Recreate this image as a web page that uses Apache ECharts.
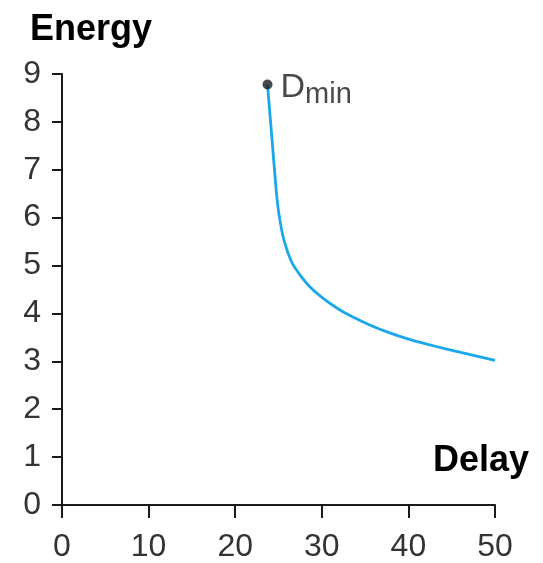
<!DOCTYPE html>
<html>
<head>
<meta charset="utf-8">
<script src="https://cdn.jsdelivr.net/npm/echarts@6/dist/echarts.min.js"></script>
<style>
html,body{margin:0;padding:0;background:#fff;}
#chart{width:543px;height:563px;}
</style>
</head>
<body>
<div id="chart"></div>
<script>
// Data
const xTicks = [0, 10, 20, 30, 40, 50];
const yTicks = [0, 1, 2, 3, 4, 5, 6, 7, 8, 9];
const curveDelay  = [23.73, 24.2, 24.73, 25.03, 25.6, 26.5, 27.5, 28.5, 29.9, 31.6, 33.3, 35.65, 38.0, 40.3, 43.0, 46.06, 50.0];
const curveEnergy = [8.78, 7.75, 6.58, 6.10, 5.55, 5.08, 4.80, 4.58, 4.35, 4.13, 3.95, 3.75, 3.585, 3.45, 3.32, 3.185, 3.02];
const dMinPoint = [23.73, 8.78];

const curve = curveDelay.map((d, i) => [d, curveEnergy[i]]);
const font = '"Liberation Sans", Arial, Helvetica, sans-serif';

const chart = echarts.init(document.getElementById('chart'));
chart.setOption({
  animation: false,
  backgroundColor: '#fff',
  title: [
    { text: 'Energy', left: 30, top: 12, padding: 0,
      textStyle: { fontFamily: font, fontSize: 36, fontWeight: 'bold', color: '#000' } },
    { text: 'Delay', left: 433, top: 443, padding: 0,
      textStyle: { fontFamily: font, fontSize: 36, fontWeight: 'bold', color: '#000' } }
  ],
  grid: { left: 62, right: 48, top: 74, bottom: 58, containLabel: false, outerBoundsMode: 'none' },
  xAxis: {
    type: 'value', min: xTicks[0], max: xTicks[xTicks.length - 1], interval: 10,
    splitLine: { show: false },
    axisLine: { show: true, lineStyle: { color: '#1a1a1a', width: 2 } },
    axisTick: { show: true, length: 13, lineStyle: { color: '#1a1a1a', width: 2 } },
    axisLabel: { margin: 26, fontFamily: font, fontSize: 32, color: '#333' }
  },
  yAxis: {
    type: 'value', min: yTicks[0], max: yTicks[yTicks.length - 1], interval: 1,
    splitLine: { show: false },
    axisLine: { show: true, lineStyle: { color: '#1a1a1a', width: 2 } },
    axisTick: { show: true, length: 10, lineStyle: { color: '#1a1a1a', width: 2 } },
    axisLabel: { margin: 21, fontFamily: font, fontSize: 32, color: '#333' }
  },
  series: [
    {
      type: 'line', data: curve, smooth: 0.3, showSymbol: false,
      lineStyle: { color: '#1ba8ea', width: 2.8 }, z: 2
    },
    {
      type: 'scatter', data: [dMinPoint], symbolSize: 10,
      itemStyle: { color: '#1a1a1a' }, z: 3,
      label: {
        show: true, position: 'right', distance: 8, offset: [0, 10], color: '#1a1a1a',
        formatter: '{d|D}{s|min}',
        rich: {
          d: { fontFamily: font, fontSize: 34, color: '#1a1a1a', padding: [0, 0, 13, 0] },
          s: { fontFamily: font, fontSize: 29, color: '#1a1a1a' }
        }
      }
    }
  ]
});
</script>
</body>
</html>
